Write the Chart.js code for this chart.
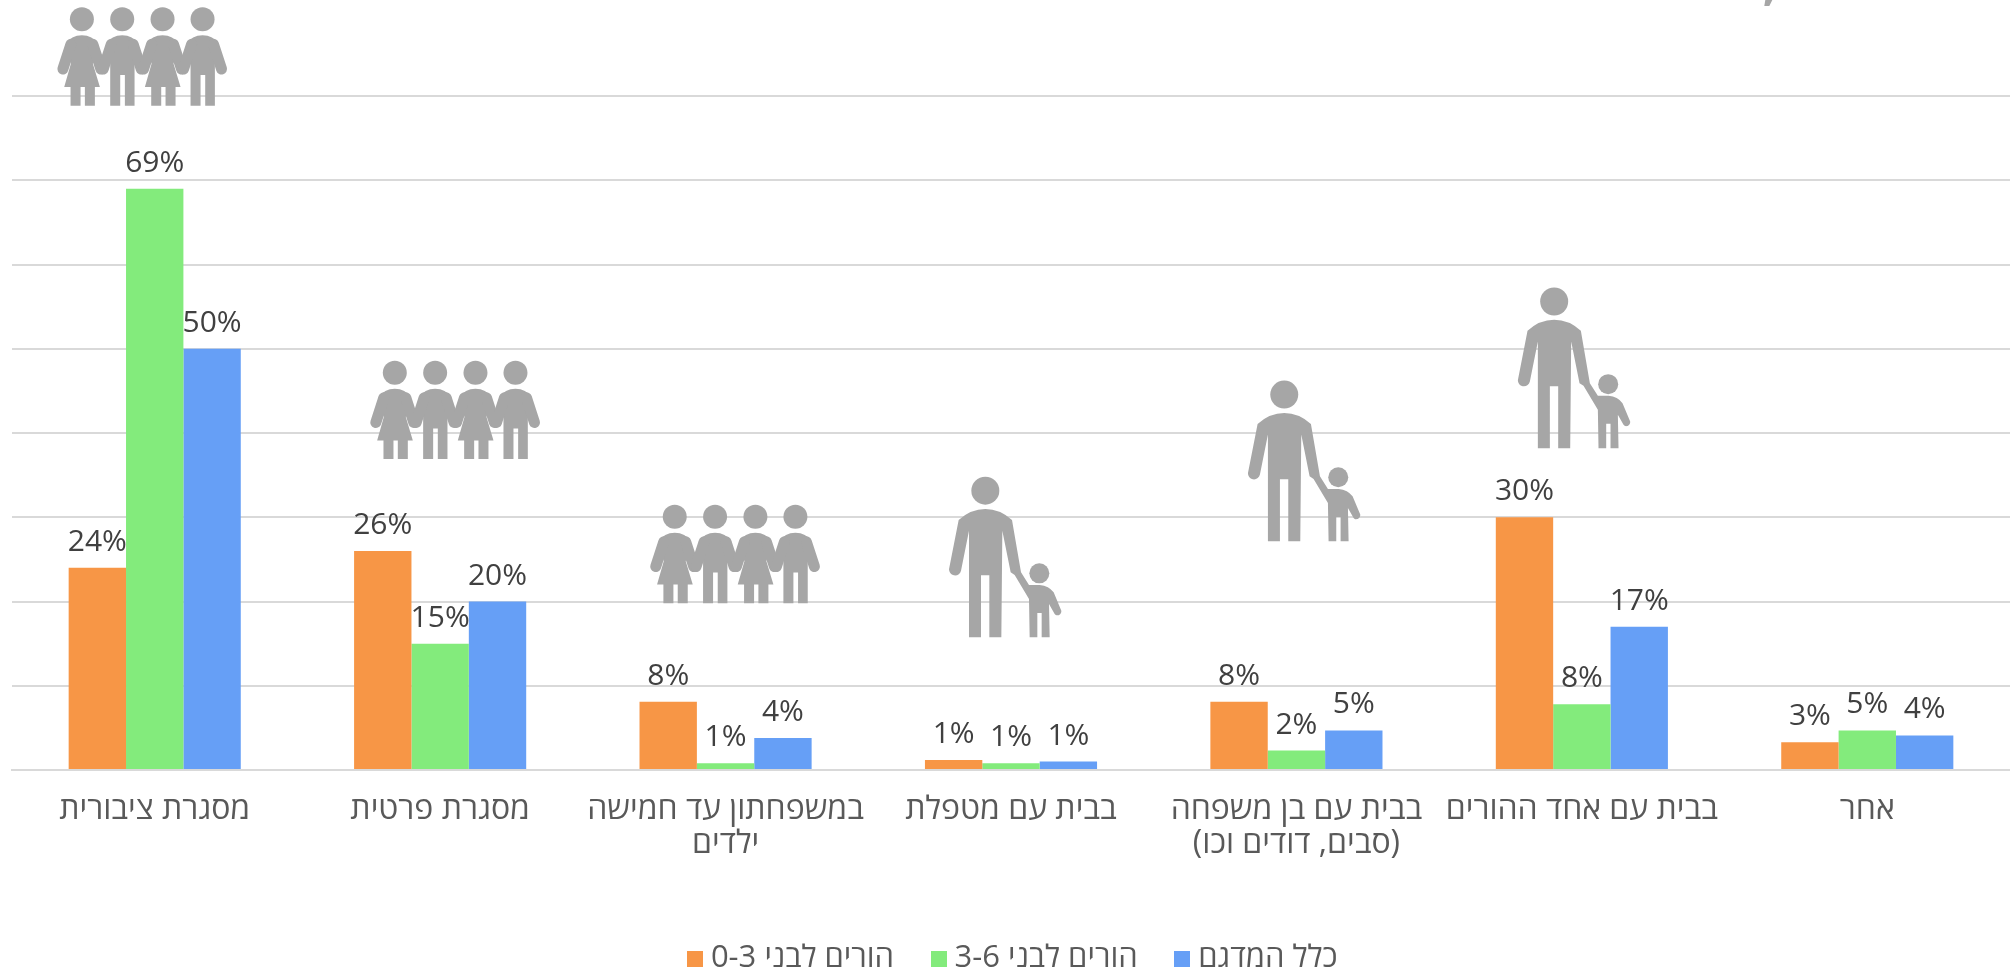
<!DOCTYPE html>
<html lang="he">
<head>
<meta charset="utf-8">
<style>
html,body{margin:0;padding:0;background:#fff;overflow:hidden}
#wrap{position:relative;width:2010px;height:969px}
canvas{display:block}
</style>
<script src="https://cdn.jsdelivr.net/npm/chart.js@4"></script>
</head>
<body>
<div id="wrap"><canvas id="c" dir="rtl" width="2010" height="969"></canvas></div>
<script>
const categories = [
  'מסגרת ציבורית',
  'מסגרת פרטית',
  ['במשפחתון עד חמישה', 'ילדים'],
  'בבית עם מטפלת',
  ['בבית עם בן משפחה', '(סבים, דודים וכו)'],
  'בבית עם אחד ההורים',
  'אחר'
];
const seriesNames = ['הורים לבני 0-3', 'הורים לבני 3-6', 'כלל המדגם'];
const parents03 = [24, 26, 8.1, 1.2, 8.1, 30, 3.3];
const parents36 = [69, 15, 0.8, 0.8, 2.3, 7.8, 4.7];
const sample = [50, 20, 3.8, 1, 4.7, 17, 4.1];
const colors = ['#F79646', '#83EB7C', '#669FF6'];
const FONT = '"Open Sans","DejaVu Sans",sans-serif';

function swatch(color) {
  const s = document.createElement('canvas');
  s.width = 16; s.height = 16;
  const g = s.getContext('2d');
  g.fillStyle = color; g.fillRect(0, 0, 16, 16);
  return s;
}

const valueLabels = {
  id: 'valueLabels',
  afterDatasetsDraw(chart) {
    const ctx = chart.ctx;
    ctx.save();
    ctx.font = '30px ' + FONT;
    ctx.fillStyle = '#404040';
    ctx.textAlign = 'center';
    ctx.textBaseline = 'alphabetic';
    chart.data.datasets.forEach((ds, d) => {
      chart.getDatasetMeta(d).data.forEach((bar, i) => {
        ctx.fillText(Math.round(ds.data[i]) + '%', bar.x, bar.y - 17);
      });
    });
    ctx.restore();
  }
};

function drawFamily(ctx) {
  const people = [[74, true], [195, false], [316, true], [436, false]];
  people.forEach(([cx, girl]) => {
    ctx.beginPath(); ctx.arc(cx, 37, 36, 0, Math.PI * 2); ctx.fill();
    ctx.beginPath();
    ctx.moveTo(cx - 49, 112);
    ctx.quadraticCurveTo(cx - 32, 85, cx, 85);
    ctx.quadraticCurveTo(cx + 32, 85, cx + 49, 112);
    if (girl) {
      ctx.lineTo(cx + 33, 170); ctx.lineTo(cx + 54, 240); ctx.lineTo(cx + 39, 240);
      ctx.lineTo(cx + 39, 296); ctx.lineTo(cx + 9, 296); ctx.lineTo(cx + 9, 240);
      ctx.lineTo(cx - 4, 240); ctx.lineTo(cx - 4, 296); ctx.lineTo(cx - 34, 296);
      ctx.lineTo(cx - 34, 240); ctx.lineTo(cx - 53, 240); ctx.lineTo(cx - 33, 170);
    } else {
      ctx.lineTo(cx + 37, 170); ctx.lineTo(cx + 37, 296); ctx.lineTo(cx + 8, 296);
      ctx.lineTo(cx + 8, 204); ctx.lineTo(cx - 6, 204); ctx.lineTo(cx - 6, 296);
      ctx.lineTo(cx - 36, 296); ctx.lineTo(cx - 36, 170);
    }
    ctx.closePath(); ctx.fill();
    ctx.lineWidth = 33; ctx.lineCap = 'round';
    [-1, 1].forEach(s => {
      ctx.beginPath();
      ctx.moveTo(cx + s * 33, 112);
      ctx.lineTo(cx + s * 57, 186);
      ctx.stroke();
    });
  });
}

function drawParent(ctx) {
  ctx.beginPath(); ctx.arc(109, 42, 42, 0, Math.PI * 2); ctx.fill();
  ctx.beginPath(); ctx.arc(271, 290, 30, 0, Math.PI * 2); ctx.fill();
  ctx.beginPath();
  ctx.moveTo(29, 130);
  ctx.quadraticCurveTo(65, 97, 109, 97);
  ctx.quadraticCurveTo(153, 97, 189, 130);
  ctx.lineTo(216, 287);
  ctx.lineTo(240, 325);
  ctx.lineTo(272, 325);
  ctx.quadraticCurveTo(300, 328, 314, 347);
  ctx.lineTo(337, 402);
  ctx.bezierCurveTo(338, 416, 322, 420, 317, 412);
  ctx.lineTo(300, 382);
  ctx.lineTo(302, 482);
  ctx.lineTo(278, 482);
  ctx.lineTo(278, 409);
  ctx.lineTo(265, 409);
  ctx.lineTo(265, 482);
  ctx.lineTo(242, 482);
  ctx.lineTo(240, 367);
  ctx.lineTo(197, 295);
  ctx.lineTo(185, 287);
  ctx.lineTo(160, 162);
  ctx.lineTo(157, 482);
  ctx.lineTo(121, 482);
  ctx.lineTo(121, 296);
  ctx.lineTo(96, 296);
  ctx.lineTo(96, 482);
  ctx.lineTo(60, 482);
  ctx.lineTo(60, 162);
  ctx.lineTo(36, 282);
  ctx.bezierCurveTo(32, 302, 2, 302, 0, 278);
  ctx.closePath();
  ctx.fill();
}

const icons = {
  id: 'icons',
  afterDatasetsDraw(chart) {
    const ctx = chart.ctx, x = chart.scales.x, y = chart.scales.y;
    const placed = [
      [0, drawFamily, -97.5, 78.85],
      [1, drawFamily, -70, 36.9],
      [2, drawFamily, -75.5, 19.8],
      [3, drawParent, -62, 15.75],
      [4, drawParent, -48.5, 27.15],
      [5, drawParent, -64, 38.2]
    ];
    ctx.save();
    ctx.fillStyle = '#A6A6A6';
    ctx.strokeStyle = '#A6A6A6';
    placed.forEach(([i, draw, dx, level]) => {
      const h = draw === drawFamily ? 296 : 482;
      ctx.save();
      ctx.translate(x.getPixelForValue(i) + dx, y.getPixelForValue(level) - h / 3);
      ctx.scale(1 / 3, 1 / 3);
      draw(ctx);
      ctx.restore();
    });
    const cut = x.getPixelForValue(6);
    ctx.beginPath();
    ctx.moveTo(cut - 102, 0); ctx.lineTo(cut - 95, 0);
    ctx.lineTo(cut - 98, 6); ctx.lineTo(cut - 103, 6);
    ctx.closePath(); ctx.fill();
    ctx.restore();
  }
};

const placeLegend = {
  id: 'placeLegend',
  beforeDraw(chart) {
    const l = chart.legend;
    l.left = 11; l.right = 2021;
    l.top = 943 - 44;
  }
};

new Chart(document.getElementById('c'), {
  type: 'bar',
  data: {
    labels: categories,
    datasets: [
      { label: seriesNames[0], data: parents03, backgroundColor: colors[0] },
      { label: seriesNames[1], data: parents36, backgroundColor: colors[1] },
      { label: seriesNames[2], data: sample, backgroundColor: colors[2] }
    ]
  },
  options: {
    responsive: false,
    animation: false,
    layout: { padding: { left: 12, right: 0, top: 96, bottom: 0 } },
    datasets: { bar: { categoryPercentage: 0.603, barPercentage: 1 } },
    scales: {
      x: {
        grid: { display: false },
        border: { color: '#D9D9D9', width: 2 },
        ticks: {
          autoSkip: false, maxRotation: 0, minRotation: 0, padding: 15,
          color: '#595959',
          font: { family: FONT, size: 32, lineHeight: 1.06 }
        },
        afterFit(scale) { scale.height = 969 - 770 - scale.chart.legend.height; }
      },
      y: {
        min: 0, max: 80,
        afterBuildTicks(scale) { scale.ticks = [0,10,20,30,40,50,60,70,80].map(v => ({ value: v })); },
        ticks: { display: false },
        border: { display: false },
        grid: { color: '#D9D9D9', lineWidth: 2, drawTicks: false }
      }
    },
    plugins: {
      tooltip: { enabled: false },
      legend: {
        position: 'bottom',
        textDirection: 'rtl',
        labels: {
          color: '#595959',
          font: { family: FONT, size: 31 },
          padding: 44,
          usePointStyle: true,
          pointStyleWidth: 1,
          boxHeight: 16,
          generateLabels(chart) {
            return Chart.defaults.plugins.legend.labels.generateLabels(chart).map((it, i) => {
              it.pointStyle = swatch(colors[i]);
              return it;
            });
          }
        }
      }
    }
  },
  plugins: [placeLegend, valueLabels, icons]
});
</script>
</body>
</html>
